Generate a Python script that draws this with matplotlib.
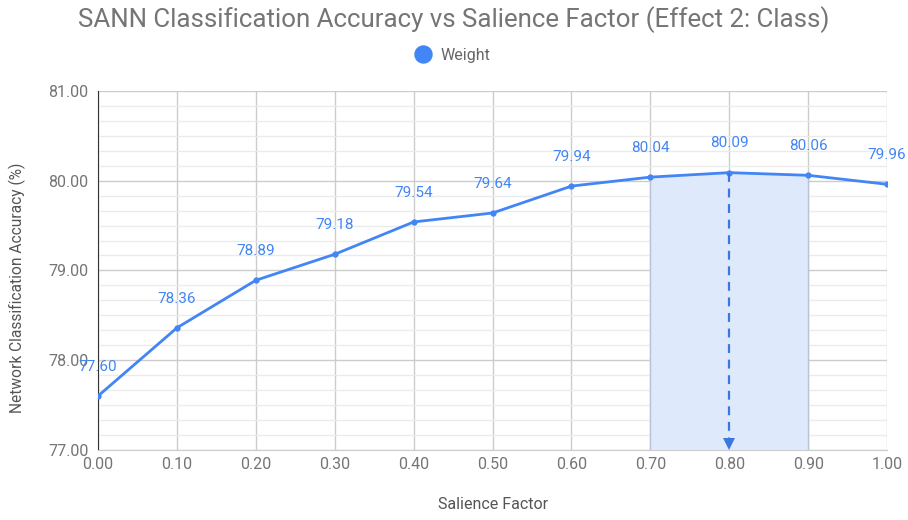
import matplotlib.pyplot as plt
import numpy as np
from matplotlib.ticker import MultipleLocator

plt.rcParams['font.family'] = ['Roboto', 'DejaVu Sans']

salience = [0.0, 0.1, 0.2, 0.3, 0.4, 0.5, 0.6, 0.7, 0.8, 0.9, 1.0]
weight = [77.60, 78.36, 78.89, 79.18, 79.54, 79.64, 79.94, 80.04, 80.09, 80.06, 79.96]
highlight = [0.7, 0.9]

blue = '#4285F4'
grey = '#757575'

fig = plt.figure(figsize=(9.08, 5.2), dpi=100)
ax = fig.add_axes([0.108, 0.135, 0.869, 0.69])

ax.set_xlim(0, 1)
ax.set_ylim(77, 81)

# grid
ax.xaxis.set_major_locator(MultipleLocator(0.1))
ax.yaxis.set_major_locator(MultipleLocator(1))
ax.yaxis.set_minor_locator(MultipleLocator(1 / 6))
ax.grid(True, which='major', color='#cccccc', lw=1)
ax.grid(True, which='minor', axis='y', color='#ebebeb', lw=1)
ax.set_axisbelow(True)
for s in ['top', 'right']:
    ax.spines[s].set_visible(False)
ax.spines['bottom'].set_color('#cccccc')
ax.spines['left'].set_color('#333333')
ax.tick_params(which='both', length=0, colors=grey, labelsize=11.5)
ax.tick_params(axis='x', pad=5)
ax.tick_params(axis='y', pad=7)
ax.xaxis.set_major_formatter(lambda v, p: f'{v:.2f}')
ax.yaxis.set_major_formatter(lambda v, p: f'{v:.2f}')

# highlighted range, shaded under the curve
xs = np.array(salience)
ys = np.array(weight)
sel = (xs >= highlight[0] - 1e-9) & (xs <= highlight[1] + 1e-9)
ax.fill_between(xs[sel], ys[sel], ax.get_ylim()[0], facecolor='#dfe9fc',
                edgecolor='none', zorder=1)
for hx in highlight:
    ax.plot([hx, hx], [ax.get_ylim()[0], np.interp(hx, xs, ys)], color='#b8c4d6',
            lw=1, zorder=1.5)

ax.plot(salience, weight, color=blue, lw=2, marker='o', ms=3.5, zorder=3, label='Weight')

for x, y in zip(salience, weight):
    ax.annotate(f'{y:.2f}', (x, y), xytext=(0, 21), textcoords='offset points',
                ha='center', va='center', color=blue, fontsize=11, zorder=4)

# dashed arrow from the peak down to the axis
i = int(np.argmax(weight))
ax.plot([salience[i], salience[i]], [weight[i], ax.get_ylim()[0] + 0.06],
        color='#3a78e0', lw=1.6, ls=(0, (4, 3)), zorder=3)
ax.plot(salience[i], ax.get_ylim()[0] + 0.06, marker='v', ms=8, color='#3a78e0',
        markeredgewidth=0, zorder=3)

ax.set_xlabel('Salience Factor', fontsize=11.5, color='#555555')
ax.xaxis.set_label_coords(0.5, -(497 - 450) / 359)
ax.set_ylabel('Network Classification Accuracy (%)', fontsize=11.2, color='#555555')
ax.yaxis.set_label_coords(-(98 - 26) / 789, (450 - 288) / 359)

fig.text(0.5, 0.963, 'SANN Classification Accuracy vs Salience Factor (Effect 2: Class)',
         ha='center', va='center', fontsize=18.6, color=grey)

leg = fig.legend(loc='center', bbox_to_anchor=(0.499, 0.894), frameon=False,
                 fontsize=11.5, handlelength=1, handletextpad=0.6, markerscale=3.5,
                 labelcolor='#666666')
leg.legend_handles[0].set_linestyle('none')

fig.savefig('out.png', dpi=100, facecolor='white')
